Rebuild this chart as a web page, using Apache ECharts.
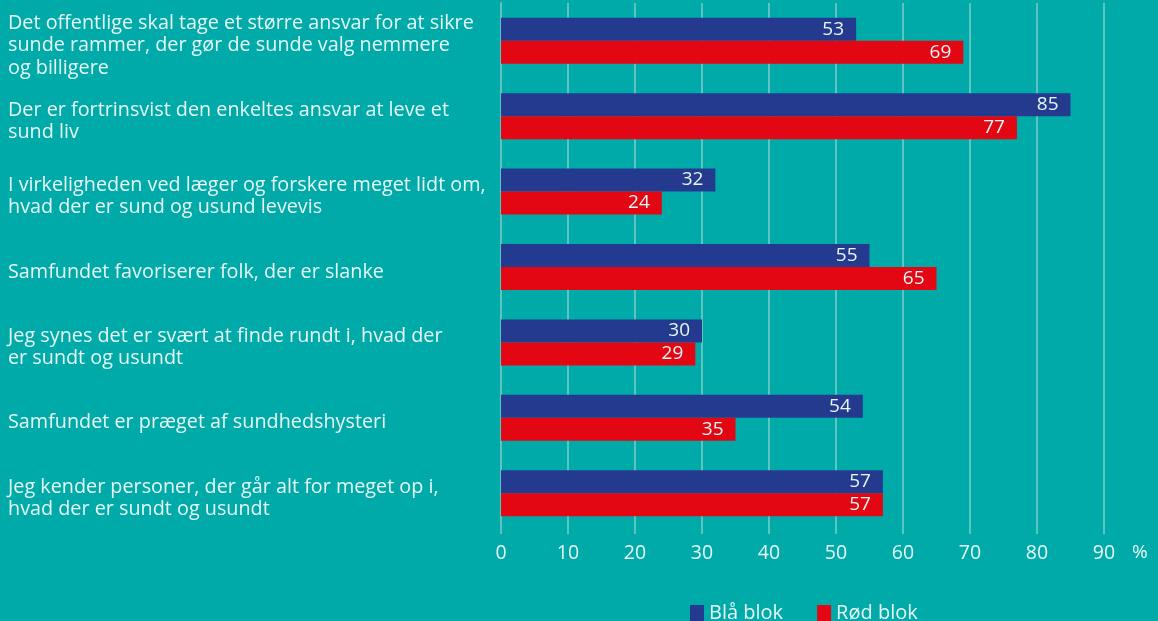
<!DOCTYPE html>
<html><head><meta charset="utf-8">
<script src="https://cdn.jsdelivr.net/npm/echarts@6/dist/echarts.min.js"></script>
<style>html,body{margin:0;padding:0;background:#00aaa8;}#c{width:1158px;height:621px;}</style>
</head><body><div id="c"></div>
<script>
const categories = [
  "Det offentlige skal tage et større ansvar for at sikre\nsunde rammer, der gør de sunde valg nemmere\nog billigere",
  "Der er fortrinsvist den enkeltes ansvar at leve et\nsund liv",
  "I virkeligheden ved læger og forskere meget lidt om,\nhvad der er sund og usund levevis",
  "Samfundet favoriserer folk, der er slanke",
  "Jeg synes det er svært at finde rundt i, hvad der\ner sundt og usundt",
  "Samfundet er præget af sundhedshysteri",
  "Jeg kender personer, der går alt for meget op i,\nhvad der er sundt og usundt"
];
const blaaBlok = [53, 85, 32, 55, 30, 54, 57];
const roedBlok = [69, 77, 24, 65, 29, 35, 57];
const seriesNames = ["Blå blok", "Rød blok"];

const txt = '#e6f7f6';
const font = 'Open Sans';
const chart = echarts.init(document.getElementById('c'));
const lbl = {show:true, position:'insideRight', color:txt, fontSize:19, fontFamily:font, distance:12};
chart.setOption({
  backgroundColor:'#00aaa8',
  animation:false,
  grid:{left:501, right:54, top:3, bottom:90, containLabel:false},
  legend:{data:seriesNames, bottom:-7, left:685, itemWidth:14, itemHeight:16, itemGap:34,
    textStyle:{color:txt, fontSize:20, fontFamily:font}, icon:'rect'},
  xAxis:{type:'value', min:0, max:90, interval:10,
    name:'%', nameLocation:'end', nameGap:28, nameTextStyle:{color:txt, fontSize:19, fontFamily:font, verticalAlign:'top', padding:[12,0,0,0]},
    axisLine:{show:false}, axisTick:{show:true, length:3, lineStyle:{color:'#5cc5c2', width:2}},
    splitLine:{show:true, lineStyle:{color:'#5cc5c2', width:2}},
    axisLabel:{color:txt, fontSize:19.5, fontFamily:font, margin:12}},
  yAxis:{type:'category', data:categories, inverse:true,
    axisLine:{show:true, lineStyle:{color:'#5cc5c2', width:2}}, axisTick:{show:false},
    axisLabel:{align:'left', margin:493, color:txt, fontSize:19.8, fontFamily:font, lineHeight:22.5,
      formatter: v => '{s| }\n' + v.split('\n').map(l => '{t|' + l + '}').join('\n'),
      rich:{s:{fontSize:1, lineHeight:10}, t:{color:txt, fontSize:19.8, fontFamily:font, lineHeight:22.5}}}},
  series:[
    {name:seriesNames[0], type:'bar', data:blaaBlok, barWidth:23, barGap:'0%', itemStyle:{color:'#233a8f'}, label:lbl},
    {name:seriesNames[1], type:'bar', data:roedBlok, barWidth:23, barGap:'0%', itemStyle:{color:'#e30613'}, label:lbl}
  ]
});
</script></body></html>
